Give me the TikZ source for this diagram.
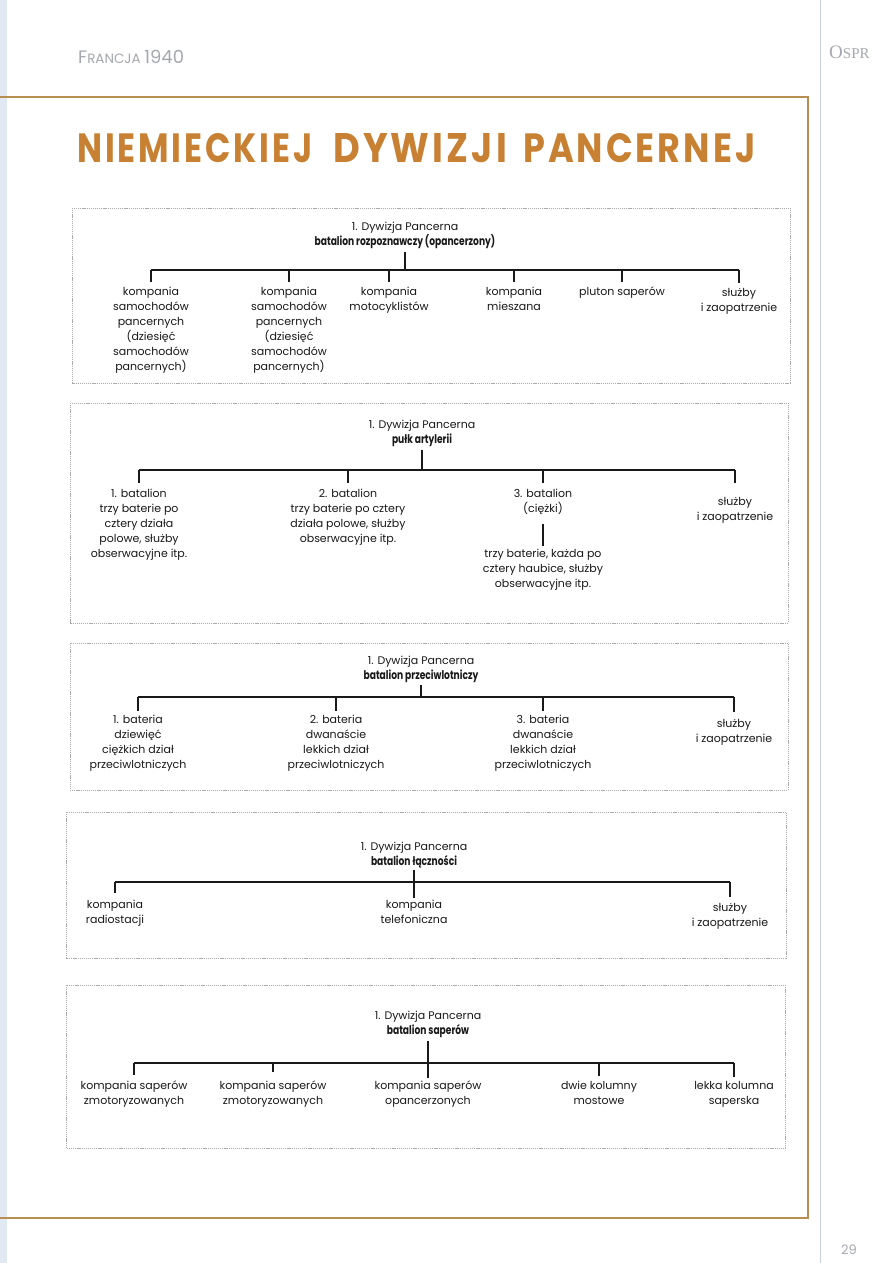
\documentclass[tikz,border=0pt]{standalone}
\usepackage{fontspec}
\usepackage{graphicx}
\setmainfont{Poppins}
\newfontfamily\bhead{Poppins}[FakeStretch=0.76]
\newfontfamily\ttl{Poppins}[FakeStretch=0.7]
\newfontfamily\osp{Liberation Serif}
\definecolor{ttlorange}{RGB}{200,128,50}
\definecolor{framec}{RGB}{185,142,82}
\definecolor{boxgray}{RGB}{170,170,170}
\definecolor{hdrgray}{RGB}{165,168,174}
\definecolor{scanblue}{RGB}{225,233,242}
\definecolor{gutter}{RGB}{200,208,218}
\definecolor{ink}{RGB}{25,25,25}
\tikzset{
  lbl/.style={font=\fontsize{11}{15}\selectfont, text=ink, align=center, inner sep=0pt, anchor=north},
  hdr/.style={font=\fontsize{11}{15}\selectfont, text=ink, align=center, inner sep=0pt, anchor=north},
  bar/.style={draw=ink, line width=2.2pt},
  thinbar/.style={draw=ink, line width=1.6pt},
  drop/.style={draw=ink, line width=1.6pt},
  stem/.style={draw=ink, line width=2.4pt},
  chartbox/.style={draw=boxgray, line width=0.6pt, dash pattern=on 1.2pt off 0.9pt},
  framerule/.style={draw=framec, line width=1.3pt},
  ttlword/.style={inner sep=0pt, text=ttlorange, anchor=west},
}
\newcommand{\bh}[1]{{\bhead\bfseries\fontsize{12}{15}\selectfont #1}}
\newcommand{\tw}[2]{\resizebox{#1pt}{29pt}{\ttl\bfseries\addfontfeature{LetterSpace=6}#2}}
\begin{document}
\begin{tikzpicture}[x=1pt,y=-1pt]
\useasboundingbox (0,0) rectangle (893,1263);
\fill[white] (0,0) rectangle (893,1263);
\fill[scanblue] (0,0) rectangle (7,1263);
\draw[gutter, line width=0.8pt] (820,0) -- (820,1263);

% running head
\node[anchor=west, text=hdrgray, inner sep=0pt] (run) at (78,57)
  {\fontsize{18}{18}\selectfont F\fontsize{13.5}{13}\selectfont RANCJA\ \fontsize{18}{18}\selectfont 1940};
\node[anchor=west, text=hdrgray, inner sep=0pt, font=\osp] (osp) at (829,52)
  {\fontsize{19}{19}\selectfont O\fontsize{15}{15}\selectfont SPR};
\node[text=hdrgray, inner sep=0pt, font=\fontsize{13}{13}\selectfont] (pg) at (849,1250) {29};

% frame
\draw[framerule] (0,97) -- (808,97) -- (808,1218) -- (0,1218);

% title
\node[ttlword] (t1) at (77,148) {\tw{235}{NIEMIECKIEJ}};
\node[ttlword] (t2) at (333,148) {\tw{174}{DYWIZJI}};
\node[ttlword] (t3) at (523,148) {\tw{232}{PANCERNEJ}};

% ---------- box 1
\draw[chartbox] (72,208) rectangle (790,383);
\node[hdr] (h1) at (405,222) {1. Dywizja Pancerna\\\bh{batalion rozpoznawczy (opancerzony)}};
\coordinate (b1L) at (151,270);
\coordinate (b1R) at (739,270);
\draw[bar] (b1L) -- (b1R);
\draw[stem] ([yshift=-3pt]h1.south) -- (h1.south |- b1L);
\node[lbl] (c11) at (151,287) {kompania\\samochodów\\pancernych\\(dziesięć\\samochodów\\pancernych)};
\node[lbl] (c12) at (289,287) {kompania\\samochodów\\pancernych\\(dziesięć\\samochodów\\pancernych)};
\node[lbl] (c13) at (389,287) {kompania\\motocyklistów};
\node[lbl] (c14) at (514,287) {kompania\\mieszana};
\node[lbl] (c15) at (622,287) {pluton saperów};
\node[lbl] (c16) at (739,288) {służby\\i zaopatrzenie};
\foreach \c in {c11,c12,c13,c14,c15,c16}
  \draw[drop] (\c.north |- b1L) -- ([yshift=5pt]\c.north);

% ---------- box 2
\draw[chartbox] (70,403) rectangle (788,623);
\node[hdr] (h2) at (422,420) {1. Dywizja Pancerna\\\bh{pułk artylerii}};
\coordinate (b2L) at (139,470);
\coordinate (b2R) at (735,470);
\draw[bar] (b2L) -- (b2R);
\draw[stem] ([yshift=-3pt]h2.south) -- (h2.south |- b2L);
\node[lbl] (c21) at (139,489) {1. batalion\\trzy baterie po\\cztery działa\\polowe, służby\\obserwacyjne itp.};
\node[lbl] (c22) at (348,489) {2. batalion\\trzy baterie po cztery\\działa polowe, służby\\obserwacyjne itp.};
\node[lbl] (c23a) at (543,489) {3. batalion\\(ciężki)};
\node[lbl] (c23b) at (543,549) {trzy baterie, każda po\\cztery haubice, służby\\obserwacyjne itp.};
\node[lbl] (c24) at (735,497) {służby\\i zaopatrzenie};
\draw[drop] (c21.north |- b2L) -- ([yshift=6pt]c21.north);
\draw[drop] (c22.north |- b2L) -- ([yshift=6pt]c22.north);
\draw[drop] (c23a.north |- b2L) -- ([yshift=6pt]c23a.north);
\draw[drop] (c24.north |- b2L) -- ([yshift=14pt]c24.north);
\draw[drop] ([yshift=-9pt]c23a.south) -- ([yshift=3pt]c23b.north);

% ---------- box 3
\draw[chartbox] (70,643) rectangle (788,790);
\node[hdr] (h3) at (421,656) {1. Dywizja Pancerna\\\bh{batalion przeciwlotniczy}};
\coordinate (b3L) at (138,697);
\coordinate (b3R) at (734,697);
\draw[thinbar] (b3L) -- (b3R);
\draw[stem] ([yshift=-2pt]h3.south) -- (h3.south |- b3L);
\node[lbl] (c31) at (138,715) {1. bateria\\dziewięć\\ciężkich dział\\przeciwlotniczych};
\node[lbl] (c32) at (336,715) {2. bateria\\dwanaście\\lekkich dział\\przeciwlotniczych};
\node[lbl] (c33) at (543,715) {3. bateria\\dwanaście\\lekkich dział\\przeciwlotniczych};
\node[lbl] (c34) at (734,719) {służby\\i zaopatrzenie};
\draw[drop] (c31.north |- b3L) -- ([yshift=4pt]c31.north);
\draw[drop] (c32.north |- b3L) -- ([yshift=4pt]c32.north);
\draw[drop] (c33.north |- b3L) -- ([yshift=4pt]c33.north);
\draw[drop] (c34.north |- b3L) -- ([yshift=7pt]c34.north);

% ---------- box 4
\draw[chartbox] (66,812) rectangle (786,958);
\node[hdr] (h4) at (414,842) {1. Dywizja Pancerna\\\bh{batalion łączności}};
\coordinate (b4L) at (115,882);
\coordinate (b4R) at (730,882);
\draw[bar] (b4L) -- (b4R);
\node[lbl] (c41) at (115,900) {kompania\\radiostacji};
\node[lbl] (c42) at (414,900) {kompania\\telefoniczna};
\node[lbl] (c43) at (730,903) {służby\\i zaopatrzenie};
\draw[stem] ([yshift=-2pt]h4.south) -- ([yshift=2pt]c42.north);
\draw[drop] (c41.north |- b4L) -- ([yshift=7pt]c41.north);
\draw[drop] (c43.north |- b4L) -- ([yshift=6pt]c43.north);

% ---------- box 5
\draw[chartbox] (66,985) rectangle (785,1148);
\node[hdr] (h5) at (428,1011) {1. Dywizja Pancerna\\\bh{batalion saperów}};
\coordinate (b5L) at (134,1063);
\coordinate (b5R) at (734,1063);
\draw[bar] (b5L) -- (b5R);
\node[lbl] (c51) at (134,1081) {kompania saperów\\zmotoryzowanych};
\node[lbl] (c52) at (273,1081) {kompania saperów\\zmotoryzowanych};
\node[lbl] (c53) at (428,1081) {kompania saperów\\opancerzonych};
\node[lbl] (c54) at (599,1081) {dwie kolumny\\mostowe};
\node[lbl] (c55) at (734,1081) {lekka kolumna\\saperska};
\draw[stem] ([yshift=-3pt]h5.south) -- ([yshift=3pt]c53.north);
\draw[drop] (c51.north |- b5L) -- ([yshift=6pt]c51.north);
\draw[drop] (c52.north |- b5L) -- ([yshift=9pt]c52.north);
\draw[drop] (c54.north |- b5L) -- ([yshift=5pt]c54.north);
\draw[drop] (c55.north |- b5L) -- ([yshift=4pt]c55.north);
\end{tikzpicture}
\end{document}
